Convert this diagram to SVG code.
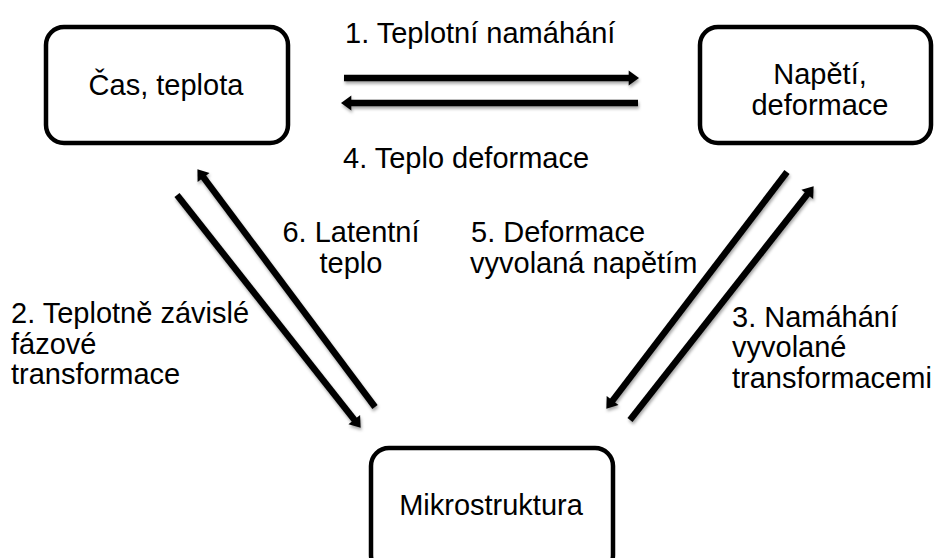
<svg xmlns="http://www.w3.org/2000/svg" width="936" height="558" viewBox="0 0 936 558">
<style>
.box{fill:#fff;stroke:#000;stroke-width:4.5}
.t{font-family:"Liberation Sans",Arial,sans-serif;font-size:29px;fill:#000}
.m{text-anchor:middle}
.ln{stroke:#000;stroke-width:6.5;fill:none;marker-end:url(#ah)}
</style>
<defs>
<marker id="ah" markerUnits="userSpaceOnUse" markerWidth="12" markerHeight="16" viewBox="0 -7 10 14" refX="2" refY="0" orient="auto" overflow="visible">
<path d="M0,-6.5 L9,0 L0,6.5 z" fill="#000"/>
</marker>
<filter id="sh" filterUnits="userSpaceOnUse" x="0" y="0" width="936" height="558">
<feDropShadow dx="1" dy="2.5" stdDeviation="1.5" flood-color="#000" flood-opacity="0.35"/>
</filter>
</defs>
<rect width="936" height="558" fill="#fff"/>
<g id="connectors" filter="url(#sh)">
<line class="ln" x1="344" y1="78" x2="631" y2="78"/>
<line class="ln" x1="638" y1="103" x2="349" y2="103"/>
<line class="ln" x1="177" y1="195" x2="355.7" y2="421.5"/>
<line class="ln" x1="375" y1="407" x2="202.2" y2="175.6"/>
<line class="ln" x1="787" y1="172" x2="611.2" y2="402.4"/>
<line class="ln" x1="630" y1="420" x2="808.7" y2="192.5"/>
</g>
<g id="node-cas">
<rect class="box" x="46" y="27" width="242" height="116" rx="18"/>
<text class="t m" x="166" y="95">Čas, teplota</text>
</g>
<g id="node-napeti">
<rect class="box" x="700" y="27" width="231" height="116" rx="18"/>
<text class="t m" x="820" y="84">Napětí,</text>
<text class="t m" x="820" y="115">deformace</text>
</g>
<g id="node-mikro">
<rect class="box" x="371" y="448" width="242" height="125" rx="18"/>
<text class="t m" x="491" y="515">Mikrostruktura</text>
</g>
<g id="labels">
<text class="t" x="345" y="43">1. Teplotní namáhání</text>
<text class="t" x="343" y="168">4. Teplo deformace</text>
<text class="t m" x="351" y="242">6. Latentní</text>
<text class="t m" x="351" y="273">teplo</text>
<text class="t" x="471" y="242">5. Deformace</text>
<text class="t" x="470" y="273">vyvolaná napětím</text>
<text class="t" x="11" y="323">2. Teplotně závislé</text>
<text class="t" x="11" y="354">fázové</text>
<text class="t" x="11" y="384">transformace</text>
<text class="t" x="732" y="327">3. Namáhání</text>
<text class="t" x="732" y="357">vyvolané</text>
<text class="t" x="732" y="388">transformacemi</text>
</g>
</svg>
